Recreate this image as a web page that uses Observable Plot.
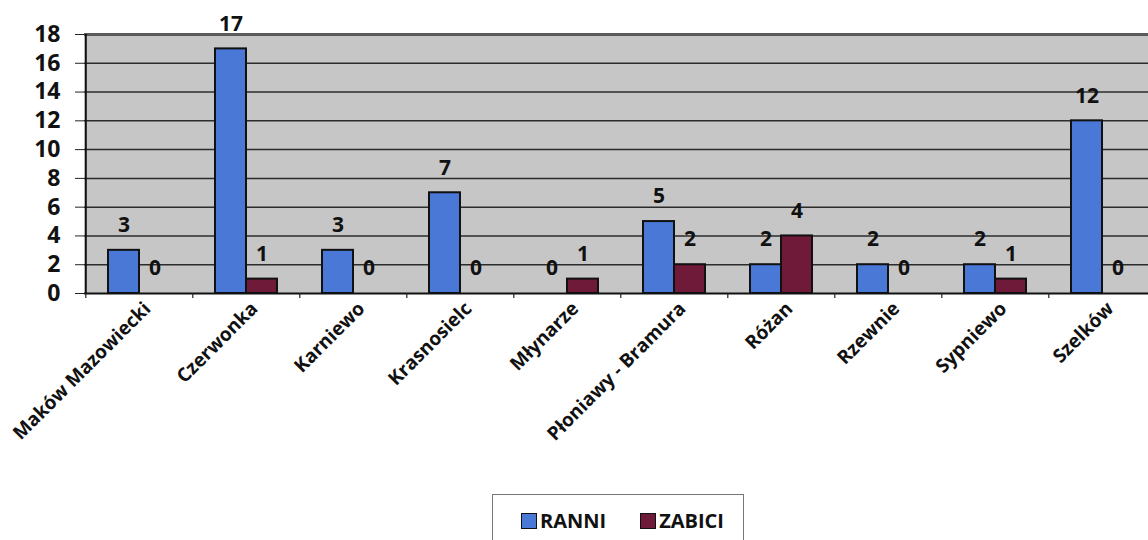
<!DOCTYPE html>
<html>
<head>
<meta charset="utf-8">
<script src="https://cdn.jsdelivr.net/npm/d3@7"></script>
<script src="https://cdn.jsdelivr.net/npm/@observablehq/plot@0.6"></script>
<style>
  body { margin: 0; background: #fff; font-family: "Open Sans", sans-serif; }
  #chart { width: 1148px; height: 540px; overflow: hidden; position: relative; }
  .legend { position: absolute; left: 492px; top: 494px; width: 252px; height: 60px; border: 1px solid #777; box-sizing: border-box; display: flex; gap: 34px; padding-left: 28px; padding-top: 12px; font-weight: bold; font-size: 20px; color: #111; }
  .legend span.sw { display: inline-block; width: 14px; height: 14px; border: 1.5px solid #111; margin-right: 3px; vertical-align: -1px; }
</style>
</head>
<body>
<div id="chart"></div>
<script>
const categories = ["Maków Mazowiecki","Czerwonka","Karniewo","Krasnosielc","Młynarze","Płoniawy - Bramura","Różan","Rzewnie","Sypniewo","Szelków"];
const series = ["RANNI","ZABICI"];
const ranni  = [3, 17, 3, 7, 0, 5, 2, 2, 2, 12];
const zabici = [0, 1, 0, 0, 1, 2, 4, 0, 1, 0];
const yTicks = [0, 2, 4, 6, 8, 10, 12, 14, 16, 18];
const colors = ["#4a78d6", "#6e1a38"];

const rData = categories.map((c, i) => ({category: c, series: series[0], value: ranni[i]}));
const zData = categories.map((c, i) => ({category: c, series: series[1], value: zabici[i]}));

const step = 107.4;
const half = 31;

const plot = Plot.plot({
  width: 1148,
  height: 490,
  marginTop: 34,
  marginBottom: 197,
  marginLeft: 84,
  marginRight: 0,
  style: {fontFamily: "'Open Sans', sans-serif", fontWeight: "bold", color: "#111"},
  x: {domain: categories, range: [84, 1158], paddingInner: 0.42, paddingOuter: 0.21, axis: null},
  y: {domain: [0, 18], axis: null},
  marks: [
    Plot.frame({fill: "#c6c6c6"}),
    Plot.ruleY(yTicks.slice(1, -1), {stroke: "#2b2b2b", strokeWidth: 1.5}),
    Plot.ruleY([18], {stroke: "#5a5a5a", strokeWidth: 3}),
    Plot.barY(rData, {x: "category", y: "value", fill: colors[0], stroke: "#111", strokeWidth: 2, insetRight: half}),
    Plot.barY(zData, {x: "category", y: "value", fill: colors[1], stroke: "#111", strokeWidth: 2, insetLeft: half}),
    Plot.ruleY([0], {stroke: "#111", strokeWidth: 2}),
    Plot.ruleX([categories[0]], {x: d => d, y1: 0, y2: 18, dx: -step / 2, stroke: "#111", strokeWidth: 2}),
    Plot.ruleX(categories, {x: d => d, y1: 0, y2: -0.35, dx: -step / 2, stroke: "#222", strokeWidth: 1.2}),
    Plot.axisY({ticks: yTicks, label: null, tickSize: 9, tickPadding: 15, fontSize: 23, stroke: "#222"}),
    Plot.text(rData, {x: "category", y: "value", text: d => String(d.value), dx: -half / 2, dy: -25, fontSize: 21, fill: "#111"}),
    Plot.text(zData, {x: "category", y: "value", text: d => String(d.value), dx: half / 2, dy: -25, fontSize: 21, fill: "#111"}),
    Plot.text(categories, {x: d => d, frameAnchor: "bottom", text: d => d, rotate: -45, textAnchor: "end", lineAnchor: "middle", dx: 8, dy: 12, fontSize: 19, fill: "#111"})
  ]
});
document.getElementById("chart").appendChild(plot);

const legend = document.createElement("div");
legend.className = "legend";
series.forEach((s, i) => {
  const item = document.createElement("div");
  const sw = document.createElement("span");
  sw.className = "sw";
  sw.style.background = colors[i];
  item.appendChild(sw);
  item.appendChild(document.createTextNode(s));
  legend.appendChild(item);
});
document.getElementById("chart").appendChild(legend);
</script>
</body>
</html>
